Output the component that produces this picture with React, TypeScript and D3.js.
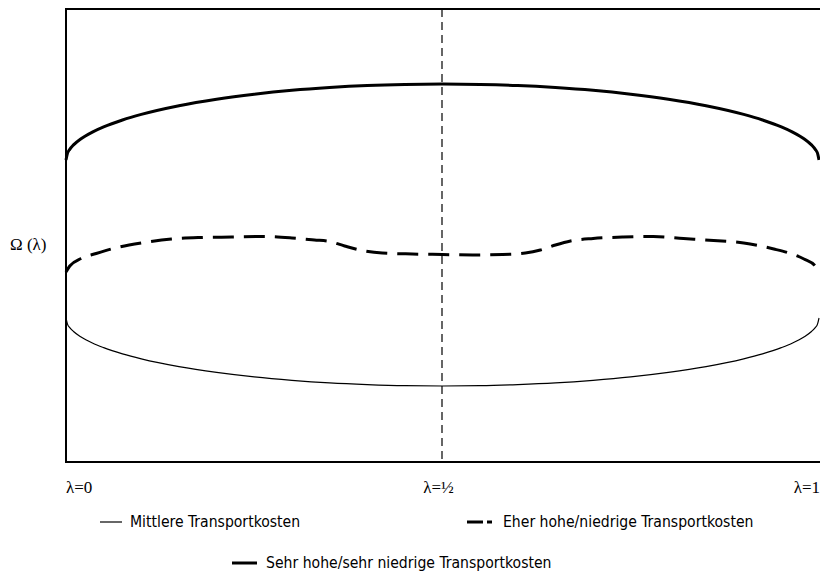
import React from "react";
import * as d3 from "d3";

// λ positions and Ω(λ) values (arbitrary units)
const lambdaEllipse = [0, 0.002, 0.005, 0.01, 0.02, 0.035, 0.05, 0.075, 0.1, 0.15, 0.2, 0.25, 0.3, 0.35, 0.4, 0.45, 0.5,
  0.55, 0.6, 0.65, 0.7, 0.75, 0.8, 0.85, 0.9, 0.925, 0.95, 0.965, 0.98, 0.99, 0.995, 0.998, 1];
const sehrHoheValues = [302, 308.8, 312.7, 317.1, 323.3, 329.9, 335.1, 342.0, 347.6, 356.3, 362.8, 367.8, 371.7, 374.5, 376.5, 377.6, 378,
  377.6, 376.5, 374.5, 371.7, 367.8, 362.8, 356.3, 347.6, 342.0, 335.1, 329.9, 323.3, 317.1, 312.7, 308.8, 302];
const mittlereValues = [144, 137.9, 134.4, 130.5, 125.0, 119.0, 114.4, 108.2, 103.2, 95.4, 89.6, 85.1, 81.7, 79.1, 77.4, 76.3, 76,
  76.3, 77.4, 79.1, 81.7, 85.1, 89.6, 95.4, 103.2, 108.2, 114.4, 119.0, 125.0, 130.5, 134.4, 137.9, 144];

const lambdaEher = [0, 0.005, 0.02, 0.04, 0.06, 0.1, 0.14, 0.18, 0.22, 0.26, 0.3, 0.33, 0.35, 0.37, 0.39, 0.42, 0.46, 0.5,
  0.54, 0.58, 0.61, 0.63, 0.65, 0.67, 0.7, 0.74, 0.78, 0.82, 0.86, 0.9, 0.94, 0.96, 0.98, 0.995, 1];
const eherHoheValues = [190, 196, 203.5, 208.5, 213, 219, 223, 224.5, 225, 225.5, 224, 222, 220.5, 216, 212, 209, 208, 207.5,
  207, 207.5, 209, 212, 217, 221, 223.5, 225, 225.5, 223.5, 221.5, 219, 213, 209, 203, 196, 190];

const xTickLabels = ["λ=0", "λ=½", "λ=1"];
const xTickValues = [0, 0.5, 1];
const legendLabels = ["Mittlere Transportkosten", "Eher hohe/niedrige Transportkosten", "Sehr hohe/sehr niedrige Transportkosten"];

export default function App() {
  const W = 820, H = 573;
  const x = d3.scaleLinear().domain([0, 1]).range([66, 819]);
  const y = d3.scaleLinear().domain([0, 453]).range([462, 9]);
  const line = d3.line<[number, number]>().x(d => x(d[0])).y(d => y(d[1])).curve(d3.curveMonotoneX);
  const toPts = (ls: number[], vs: number[]) => ls.map((l, i) => [l, vs[i]] as [number, number]);

  const serif = "'Liberation Serif', 'Times New Roman', serif";
  const sans = "'Liberation Sans Narrow', 'DejaVu Sans Condensed', 'Open Sans', sans-serif";

  return (
    <svg width={W} height={H} style={{ position: "absolute", left: 0, top: 0, background: "#fff" }}>
      <rect x={0} y={0} width={W} height={H} fill="#fff" />
      {/* frame */}
      <path d={`M${x(1) + 1},${y(453)} H${x(0)} V${y(0)} H${x(1) + 1}`} fill="none" stroke="#000" strokeWidth={2} />
      {/* middle dashed line */}
      <line x1={x(0.5) - 0.5} x2={x(0.5) - 0.5} y1={y(453)} y2={y(0)} stroke="#000" strokeWidth={1.2} strokeDasharray="8 5" />
      {/* curves */}
      <path d={line(toPts(lambdaEllipse, sehrHoheValues)) || ""} fill="none" stroke="#000" strokeWidth={3} />
      <path d={line(toPts(lambdaEher, eherHoheValues)) || ""} fill="none" stroke="#000" strokeWidth={3} strokeDasharray="21 10" />
      <path d={line(toPts(lambdaEllipse, mittlereValues)) || ""} fill="none" stroke="#000" strokeWidth={1.2} />

      {/* y label */}
      <text x={10} y={250} fontFamily={serif} fontSize={17}>Ω (λ)</text>
      {/* x tick labels */}
      {xTickValues.map((v, i) => (
        <text key={i} x={i === 0 ? x(v) : i === 2 ? 820 : x(v) - 4}
          y={493} fontFamily={serif} fontSize={17}
          textAnchor={i === 0 ? "start" : i === 2 ? "end" : "middle"}>{xTickLabels[i]}</text>
      ))}

      {/* legend */}
      <line x1={100} x2={122} y1={522} y2={522} stroke="#000" strokeWidth={1.2} />
      <text x={130} y={527} fontFamily={sans} fontSize={15.6}>{legendLabels[0]}</text>
      <line x1={467} x2={483} y1={522} y2={522} stroke="#000" strokeWidth={3} />
      <line x1={487} x2={492} y1={522} y2={522} stroke="#000" strokeWidth={3} />
      <text x={503} y={527} fontFamily={sans} fontSize={15.6}>{legendLabels[1]}</text>
      <line x1={232} x2={257} y1={563} y2={563} stroke="#000" strokeWidth={3} />
      <text x={266} y={568} fontFamily={sans} fontSize={15.6}>{legendLabels[2]}</text>
    </svg>
  );
}
